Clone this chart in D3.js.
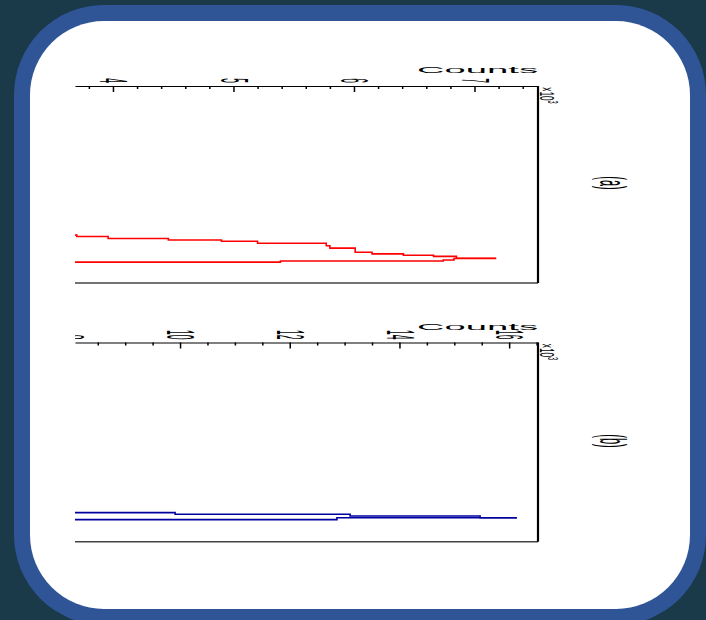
<!DOCTYPE html>
<html>
<head>
<meta charset="UTF-8">
<title>Counts</title>
<style>
  body { margin: 0; background: #1a3a4a; }
  svg { display: block; }
  .axis text { font-family: "Liberation Sans", Arial, sans-serif; font-size: 8.5px; fill: #000; }
  .axis line { stroke: #000; stroke-width: 1.5; }
  .axis path { stroke: #000; }
  .lab { font-family: "Liberation Sans", Arial, sans-serif; fill: #000; }
</style>
</head>
<body>
<svg width="706" height="620"></svg>
<script src="https://cdn.jsdelivr.net/npm/d3@7"></script>
<script>
// panel (a), counts in 10^3
const aTicks = [4, 5, 6, 7];
const aUpperX = [3.68, 3.70, 3.96, 4.46, 4.90, 5.20, 5.77, 5.80, 6.01, 6.15, 6.41, 6.66, 6.85, 7.18];
const aUpperY = [24.3, 23.6, 22.6, 21.8, 21.2, 20.2, 18.9, 17.7, 15.6, 14.8, 14.1, 13.5, 12.6, 12.6];
const aLowerX = [3.68, 5.39, 6.74, 6.83, 7.18];
const aLowerY = [10.6, 11.2, 11.7, 12.4, 12.4];

// panel (b)
const bTicks = [8, 10, 12, 14, 16];
const bUpperX = [8.08, 9.91, 13.10, 15.47, 16.14];
const bUpperY = [14.6, 13.8, 12.9, 12.0, 12.0];
const bLowerX = [8.08, 12.86, 16.14];
const bLowerY = [11.1, 12.0, 12.0];

const svg = d3.select("svg");
const SX = 4.5; // horizontal stretch of the lettering

// card
svg.append("rect").attr("x", 14).attr("y", 5).attr("width", 692).attr("height", 620)
  .attr("rx", 90).attr("fill", "#2f5597");
svg.append("rect").attr("x", 30).attr("y", 21).attr("width", 660).attr("height", 588)
  .attr("rx", 74).attr("fill", "#fff");

const panels = [
  { id: "a", top: 86, bottom: 283, domain: [3.685, 7.527], ticks: aTicks, minor: 0.2,
    color: "#ff0000", series: [[aUpperX, aUpperY], [aLowerX, aLowerY]], tag: "(a)", tagY: 183 },
  { id: "b", top: 342.5, bottom: 541.7, domain: [8.085, 16.526], ticks: bTicks, minor: 0.5,
    color: "#0000a0", series: [[bUpperX, bUpperY], [bLowerX, bLowerY]], tag: "(b)", tagY: 441 }
];

const left = 75, right = 538;

// clip for the axes, in the axis group's own coordinates
svg.append("clipPath").attr("id", "clipax")
  .append("rect").attr("x", left).attr("y", -40)
  .attr("width", right - left + 2).attr("height", 60);

panels.forEach(p => {
  const x = d3.scaleLinear().domain(p.domain).range([left, right]);
  const y = d3.scaleLinear().domain([0, 100]).range([p.bottom, p.top]);
  const g = svg.append("g");

  svg.append("clipPath").attr("id", "clip-" + p.id)
    .append("rect").attr("x", left).attr("y", p.top)
    .attr("width", right - left).attr("height", p.bottom - p.top);

  // step lines
  const line = d3.line().x(d => x(d[0])).y(d => y(d[1])).curve(d3.curveStepAfter);
  p.series.forEach(([xs, ys]) => {
    g.append("path")
      .datum(xs.map((v, i) => [v, ys[i]]))
      .attr("clip-path", `url(#clip-${p.id})`)
      .attr("fill", "none")
      .attr("stroke", p.color)
      .attr("stroke-width", 1.6)
      .attr("d", line);
  });

  // frame: bottom and right
  g.append("line").attr("x1", left).attr("x2", right)
    .attr("y1", p.bottom).attr("y2", p.bottom)
    .attr("stroke", "#444").attr("stroke-width", 1.5);
  g.append("line").attr("x1", right).attr("x2", right)
    .attr("y1", p.top).attr("y2", p.bottom)
    .attr("stroke", "#000").attr("stroke-width", 2.2);

  // minor ticks
  const [d0, d1] = p.domain;
  const minorVals = d3.range(Math.ceil(d0 / p.minor) * p.minor, d1, p.minor)
    .filter(v => !p.ticks.some(t => Math.abs(t - v) < 1e-6));
  g.append("g").attr("class", "axis")
    .attr("transform", `translate(0,${p.top})`)
    .attr("clip-path", "url(#clipax)")
    .call(d3.axisTop(x).tickValues(minorVals).tickSize(-3).tickFormat(""))
    .call(s => s.select(".domain").remove());

  // major ticks with labels
  const ax = g.append("g").attr("class", "axis")
    .attr("transform", `translate(0,${p.top})`)
    .attr("clip-path", "url(#clipax)")
    .call(d3.axisTop(x).tickValues(p.ticks).tickSizeInner(-6).tickSizeOuter(0).tickFormat(d3.format("d")));
  ax.select(".domain").attr("stroke-width", 1.2);
  ax.selectAll("text")
    .attr("x", null).attr("y", null)
    .attr("dy", "0.35em")
    .attr("text-anchor", "end")
    .attr("transform", `translate(0,-3) scale(${SX},1) rotate(90)`);

  // "Counts" title
  svg.append("text").attr("class", "lab")
    .attr("text-anchor", "end")
    .attr("font-size", 8.5)
    .attr("transform", `translate(${right},${p.top - 13}) scale(${SX},1)`)
    .text("Counts");

  // x10^3 multiplier
  const m = svg.append("text").attr("class", "lab")
    .attr("font-size", 8)
    .attr("dy", "0.35em")
    .attr("transform", `translate(${right + 9},${p.top + 1}) scale(2.6,1) rotate(90)`);
  m.append("tspan").text("×10");
  m.append("tspan").attr("font-size", 5.5).attr("dy", "-0.6em").text("3");

  // panel tag
  svg.append("text").attr("class", "lab")
    .attr("font-size", 11)
    .attr("text-anchor", "middle")
    .attr("dy", "0.35em")
    .attr("transform", `translate(613,${p.tagY}) scale(3.4,1) rotate(90)`)
    .text(p.tag);
});
</script>
</body>
</html>
